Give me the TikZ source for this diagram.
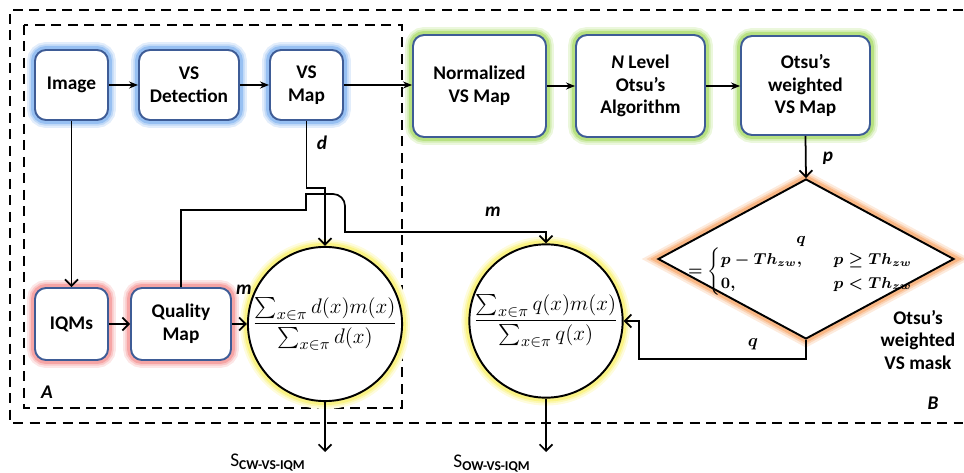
\documentclass[tikz,border=0pt]{standalone}
\usepackage{fontspec}
\setmainfont{Carlito}
\usepackage{amsmath}
\usepackage{bm}
\usetikzlibrary{shapes.geometric, arrows.meta}

\definecolor{boxline}{RGB}{62,92,150}
\definecolor{blueglow}{RGB}{140,185,240}
\definecolor{greenglow}{RGB}{175,222,115}
\definecolor{redglow}{RGB}{245,155,155}
\definecolor{yellowglow}{RGB}{250,242,120}
\definecolor{orangeglow}{RGB}{248,175,120}

\begin{document}
\begin{tikzpicture}[x=0.02cm, y=-0.02cm,
                    glow/.style={preaction={draw=#1!25, line width=9pt}, preaction={draw=#1!55, line width=6.5pt}, preaction={draw=#1!90, line width=4.5pt}},
                    bluenode/.style={rectangle, rounded corners=2.2mm, draw=boxline, fill=white, line width=1.1pt, align=center, inner sep=1pt, font=\fontsize{11}{13}\selectfont\bfseries, glow=blueglow},
                    greennode/.style={rectangle, rounded corners=2.2mm, draw=boxline, fill=white, line width=1.1pt, align=center, inner sep=1pt, font=\fontsize{11}{13}\selectfont\bfseries, glow=greenglow},
                    rednode/.style={rectangle, rounded corners=2.2mm, draw=boxline, fill=white, line width=1.1pt, align=center, inner sep=1pt, font=\fontsize{11}{13}\selectfont\bfseries, glow=redglow},
                    sumnode/.style={circle, draw=black, fill=white, line width=1.1pt, minimum size=2.8cm, inner sep=0pt, font=\fontsize{13}{15}\selectfont, glow=yellowglow},
                    masknode/.style={diamond, draw=black, fill=white, line width=1.1pt, minimum width=5.92cm, minimum height=3.2cm, inner sep=0pt, glow=orangeglow},
                    lbl/.style={font=\fontsize{11}{13}\selectfont\bfseries\itshape},
                    flow/.style={line width=1pt, -{Stealth[length=1.8mm, width=1.4mm]}},
                    link/.style={line width=1pt, -{Straight Barb[length=1.3mm, width=2.6mm]}},
                    frame/.style={line width=1pt, dash pattern=on 2mm off 1.3mm},
                ]
                    \useasboundingbox (0,0) rectangle (964,473);

                    %Frames
                    \draw[frame] (963,10) -- (10,10) -- (10,423) -- (963,423);
                    \draw[frame] (24,25) rectangle (402,408);
                    \node[lbl] (labA) at (47,392) {A};
                    \node[lbl] (labB) at (933,403) {B};

                    %Nodes
                    \node[bluenode, minimum width=1.46cm, minimum height=1.4cm] (img) at (71.5,85) {Image};
                    \node[bluenode, minimum width=2cm, minimum height=1.4cm] (vsdet) at (189,85) {VS\\Detection};
                    \node[bluenode, minimum width=1.46cm, minimum height=1.4cm] (vsmap) at (306.5,85) {VS\\Map};
                    \node[greennode, minimum width=2.66cm, minimum height=2.04cm] (norm) at (479.5,86) {Normalized\\VS Map};
                    \node[greennode, minimum width=2.58cm, minimum height=2.04cm] (nlev) at (640.5,86) {\textit{N} Level\\Otsu’s\\Algorithm};
                    \node[greennode, minimum width=2.58cm, minimum height=1.98cm] (otsu) at (805.5,85.5) {Otsu’s\\weighted\\VS Map};
                    \node[rednode, minimum width=1.46cm, minimum height=1.44cm] (iqm) at (71.5,324) {IQMs};
                    \node[rednode, minimum width=2cm, minimum height=1.44cm] (qmap) at (181,324) {Quality\\Map};
                    \node[sumnode] (cw) at (325,324) {$\dfrac{\textstyle\sum_{x\in\pi} d(x)m(x)}{\textstyle\sum_{x\in\pi} d(x)}$};
                    \node[sumnode] (ow) at (546,321) {$\dfrac{\textstyle\sum_{x\in\pi} q(x)m(x)}{\textstyle\sum_{x\in\pi} q(x)}$};
                    \node[masknode] (mask) at (806,259) {};
                    \node[align=center, font=\fontsize{9}{11}\selectfont\boldmath] (maskeq) at (801,266) {$q$\\$=\begin{cases} p-Th_{zw}, & \quad p\geq Th_{zw}\\ 0, & \quad p<Th_{zw}\end{cases}$};
                    \node[align=center, font=\fontsize{11}{13}\selectfont\bfseries] (masklbl) at (918,340) {Otsu’s\\weighted\\VS mask};
                    \coordinate (cwout) at (325,452);
                    \coordinate (owout) at (546,452);
                    \node[font=\fontsize{11}{13}\selectfont] (cwlbl) at (268,463) {S\textsubscript{\bfseries CW-VS-IQM}};
                    \node[font=\fontsize{11}{13}\selectfont] (owlbl) at (492,464) {S\textsubscript{\bfseries OW-VS-IQM}};

                    %Lines
                    \draw[flow] (img) -- (vsdet);
                    \draw[flow] (vsdet) -- (vsmap);
                    \draw[flow] (vsmap.east) -- (vsmap.east -| norm.west);
                    \draw[flow] (norm) -- (nlev);
                    \draw[flow] (nlev.east) -- (nlev.east -| otsu.west);
                    \draw[link] (otsu.south) -- (mask.north);
                    \draw[link] (img.south) -- (iqm.north);
                    \draw[link] (iqm) -- (qmap);
                    \draw[link] (qmap) -- (cw);
                    \draw[link] (vsmap.south) -- ++(0,67) -| (cw.north);
                    \draw[link] (qmap.north) |- (306,210) -- (306,194) -- (333,194) to[out=0, in=90] (345,206) -- (345,232) -| (ow.north);
                    \draw[link] (mask.south) -- ++(0,19) -- ++(-167,0) |- (ow.east);
                    \draw[link] (cw.south) -- (cwout);
                    \draw[link] (ow.south) -- (owout);

                    %Labels
                    \node[lbl] (plbl) at (828,158) {p};
                    \node[lbl] (dlbl) at (322,143) {d};
                    \node[lbl] (mlbl1) at (244,290) {m};
                    \node[lbl] (mlbl2) at (493,212) {m};
                    \node (qlbl) at (753,344) {$\bm{q}$};
                \end{tikzpicture}
\end{document}
